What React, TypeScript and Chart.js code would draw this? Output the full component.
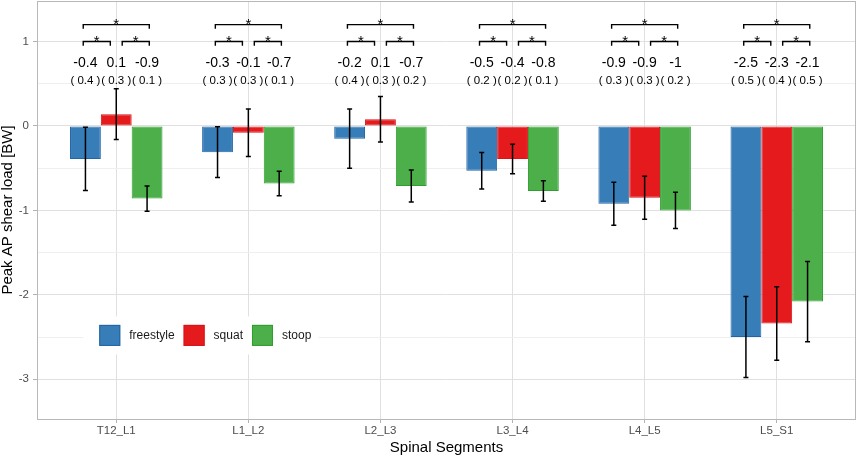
import React, { useEffect, useRef } from 'react';
import { Chart, registerables } from 'chart.js';

Chart.register(...registerables);

// ---------- data ----------
const categories = ['T12_L1', 'L1_L2', 'L2_L3', 'L3_L4', 'L4_L5', 'L5_S1'];
const seriesNames = ['freestyle', 'squat', 'stoop'];

const freestyleMean = [-0.39, -0.31, -0.15, -0.53, -0.92, -2.5];
const squatMean = [0.14, -0.08, 0.08, -0.39, -0.85, -2.34];
const stoopMean = [-0.86, -0.68, -0.71, -0.77, -1.0, -2.08];

const freestyleSD = [0.375, 0.3, 0.35, 0.215, 0.255, 0.48];
const squatSD = [0.3, 0.28, 0.27, 0.175, 0.255, 0.435];
const stoopSD = [0.15, 0.145, 0.19, 0.12, 0.215, 0.475];

const freestyleMeanLabels = ['-0.4', '-0.3', '-0.2', '-0.5', '-0.9', '-2.5'];
const squatMeanLabels = ['0.1', '-0.1', '0.1', '-0.4', '-0.9', '-2.3'];
const stoopMeanLabels = ['-0.9', '-0.7', '-0.7', '-0.8', '-1', '-2.1'];

const freestyleSDLabels = ['0.4', '0.3', '0.4', '0.2', '0.3', '0.5'];
const squatSDLabels = ['0.3', '0.3', '0.3', '0.2', '0.3', '0.4'];
const stoopSDLabels = ['0.1', '0.1', '0.2', '0.1', '0.2', '0.5'];

// significance marks per segment: [freestyle-squat, squat-stoop, freestyle-stoop]
const sigFreestyleSquat = ['*', '*', '*', '*', '*', '*'];
const sigSquatStoop = ['*', '*', '*', '*', '*', '*'];
const sigFreestyleStoop = ['*', '*', '*', '*', '*', '*'];

const yTickValues = [-3, -2.5, -2, -1.5, -1, -0.5, 0, 0.5, 1];

// ---------- style ----------
const FONT = '"Liberation Sans", Arial, Helvetica, sans-serif';
const fills = ['#377EB8', '#E41A1C', '#4DAF4A'];
const borders = ['#2264A6', '#D81517', '#2E9E2E'];

const means = [freestyleMean, squatMean, stoopMean];
const sds = [freestyleSD, squatSD, stoopSD];
const meanLabels = [freestyleMeanLabels, squatMeanLabels, stoopMeanLabels];
const sdLabels = [freestyleSDLabels, squatSDLabels, stoopSDLabels];

const Y_MIN = -3.47;
const Y_MAX = 1.48;
const SIG_LOW_Y = 1.0;
const SIG_HIGH_Y = 1.2;
const TIP = 0.05;
const MEAN_TEXT_Y = 0.75;
const SD_TEXT_Y = 0.53;

const overlayPlugin = {
  id: 'overlay',
  afterDatasetsDraw(chart: any) {
    const { ctx, chartArea: a, scales } = chart;
    const x = scales.x;
    const y = scales.y;
    ctx.save();

    // error bars
    ctx.strokeStyle = '#000';
    ctx.lineWidth = 1.5;
    means.forEach((m, d) => {
      const meta = chart.getDatasetMeta(d);
      meta.data.forEach((bar: any, i: number) => {
        const cx = bar.x;
        const t = y.getPixelForValue(m[i] + sds[d][i]);
        const b = y.getPixelForValue(m[i] - sds[d][i]);
        ctx.beginPath();
        ctx.moveTo(cx, t);
        ctx.lineTo(cx, b);
        ctx.moveTo(cx - 2.5, t);
        ctx.lineTo(cx + 2.5, t);
        ctx.moveTo(cx - 2.5, b);
        ctx.lineTo(cx + 2.5, b);
        ctx.stroke();
      });
    });

    // significance brackets
    const bracket = (i: number, x0: number, x1: number, yv: number, label: string) => {
      const px0 = x.getPixelForValue(i + x0);
      const px1 = x.getPixelForValue(i + x1);
      const py = y.getPixelForValue(yv);
      const pt = y.getPixelForValue(yv - TIP);
      ctx.beginPath();
      ctx.moveTo(px0, pt);
      ctx.lineTo(px0, py);
      ctx.lineTo(px1, py);
      ctx.lineTo(px1, pt);
      ctx.stroke();
      ctx.font = `15px ${FONT}`;
      ctx.textAlign = 'center';
      ctx.textBaseline = 'alphabetic';
      ctx.fillStyle = '#000';
      ctx.fillText(label, (px0 + px1) / 2, py + 4.5);
    };
    ctx.lineWidth = 1.4;
    categories.forEach((_, i) => {
      bracket(i, -0.25, -0.045, SIG_LOW_Y, sigFreestyleSquat[i]);
      bracket(i, 0.045, 0.25, SIG_LOW_Y, sigSquatStoop[i]);
      bracket(i, -0.25, 0.25, SIG_HIGH_Y, sigFreestyleStoop[i]);
    });

    // mean and SD labels
    ctx.fillStyle = '#000';
    ctx.textAlign = 'center';
    ctx.textBaseline = 'middle';
    means.forEach((_, d) => {
      const meta = chart.getDatasetMeta(d);
      meta.data.forEach((bar: any, i: number) => {
        ctx.font = `14px ${FONT}`;
        ctx.fillText(meanLabels[d][i], bar.x, y.getPixelForValue(MEAN_TEXT_Y));
        ctx.font = `11.5px ${FONT}`;
        ctx.fillText(`( ${sdLabels[d][i]} )`, bar.x, y.getPixelForValue(SD_TEXT_Y));
      });
    });

    // panel border
    ctx.strokeStyle = '#B8B8B8';
    ctx.lineWidth = 1;
    ctx.strokeRect(a.left + 0.5, a.top + 0.5, a.right - a.left - 1, a.bottom - a.top);

    // legend inside panel at (0.2, 0.2)
    const cx = a.left + 0.2 * (a.right - a.left);
    const cy = a.bottom - 0.2 * (a.bottom - a.top);
    ctx.font = `12px ${FONT}`;
    const box = 21;
    const gap = 9;
    const widths = seriesNames.map((n) => ctx.measureText(n).width);
    const contentW = widths.reduce((s, w) => s + w, 0) + seriesNames.length * (box + gap) + (seriesNames.length - 1) * gap;
    const bgW = contentW + 23;
    ctx.fillStyle = '#fff';
    ctx.fillRect(cx - bgW / 2, cy - 19, bgW, 38);
    let px = cx - bgW / 2 + 16;
    seriesNames.forEach((n, d) => {
      ctx.fillStyle = fills[d];
      ctx.fillRect(px, cy - box / 2, box, box);
      ctx.strokeStyle = borders[d];
      ctx.lineWidth = 1;
      ctx.strokeRect(px + 0.5, cy - box / 2 + 0.5, box - 1, box - 1);
      px += box + gap;
      ctx.fillStyle = '#1a1a1a';
      ctx.textAlign = 'left';
      ctx.textBaseline = 'middle';
      ctx.fillText(n, px, cy);
      px += widths[d] + gap;
    });

    ctx.restore();
  },
};

export default function App() {
  const ref = useRef<HTMLCanvasElement>(null);

  useEffect(() => {
    const canvas = ref.current;
    if (!canvas) return;
    const chart = new Chart(canvas, {
      type: 'bar',
      data: {
        datasets: seriesNames.map((name, d) => ({
          label: name,
          data: means[d].map((v, i) => ({ x: i, y: v })),
          backgroundColor: fills[d],
          borderColor: borders[d],
          borderWidth: 1,
          borderSkipped: false,
          categoryPercentage: 0.7,
          barPercentage: 1.0,
        })),
      } as any,
      options: {
        animation: false,
        responsive: false,
        maintainAspectRatio: false,
        layout: { padding: { left: 0, right: 2, top: 1, bottom: 0 } },
        plugins: {
          legend: { display: false },
          tooltip: { enabled: false },
        },
        scales: {
          x: {
            type: 'linear',
            min: -0.6,
            max: 5.6,
            bounds: 'data',
            offset: false,
            afterBuildTicks: (axis: any) => {
              axis.ticks = categories.map((_, i) => ({ value: i }));
            },
            afterFit: (axis: any) => {
              axis.height = 39;
              axis.paddingLeft = 0;
              axis.paddingRight = 0;
              axis.paddingTop = 0;
              axis.paddingBottom = 0;
            },
            ticks: {
              autoSkip: false,
              maxRotation: 0,
              padding: 1,
              color: '#4D4D4D',
              font: { family: FONT, size: 11.5 },
              callback: (v: any) => categories[Math.round(Number(v))] ?? '',
            },
            grid: {
              offset: false,
              color: '#E0E0E0',
              tickColor: '#B3B3B3',
              tickLength: 4,
              lineWidth: 1,
            },
            border: { display: false },
            title: {
              display: true,
              text: 'Spinal Segments',
              color: '#000',
              font: { family: FONT, size: 15, lineHeight: 1.2 },
              padding: { top: 0, bottom: 1 },
            },
          },
          y: {
            type: 'linear',
            min: Y_MIN,
            max: Y_MAX,
            bounds: 'data',
            afterBuildTicks: (axis: any) => {
              axis.ticks = yTickValues.map((v) => ({ value: v }));
            },
            afterFit: (axis: any) => {
              axis.width = 37;
              axis.paddingLeft = 0;
              axis.paddingRight = 0;
              axis.paddingTop = 0;
              axis.paddingBottom = 0;
            },
            ticks: {
              padding: 4,
              color: '#4D4D4D',
              font: { family: FONT, size: 11.5 },
              callback: (v: any) => (Number.isInteger(Number(v)) ? String(v) : ''),
            },
            grid: {
              color: (c: any) => (Number.isInteger(c.tick?.value) ? '#E0E0E0' : '#EFEFEF'),
              tickColor: (c: any) => (Number.isInteger(c.tick?.value) ? '#B3B3B3' : 'rgba(0,0,0,0)'),
              tickLength: 4,
              lineWidth: 1,
            },
            border: { display: false },
            title: {
              display: true,
              text: 'Peak AP shear load [BW]',
              color: '#000',
              font: { family: FONT, size: 15, lineHeight: 1 },
              padding: 0,
            },
          },
        },
      } as any,
      plugins: [overlayPlugin],
    });
    return () => chart.destroy();
  }, []);

  return (
    <div style={{ position: 'fixed', left: 0, top: 0, width: 858, height: 458, background: '#fff' }}>
      <canvas ref={ref} width={858} height={458} style={{ display: 'block' }} />
    </div>
  );
}
